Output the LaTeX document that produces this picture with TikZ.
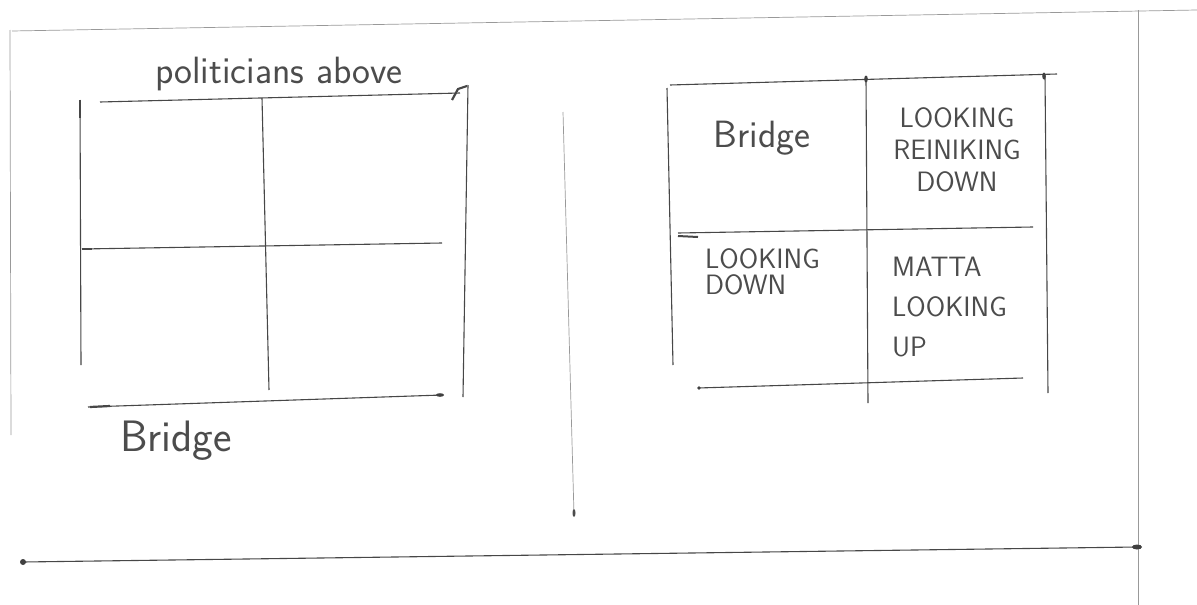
\documentclass[tikz,border=0pt]{standalone}
\usepackage{fontspec}
\begin{document}
\begin{tikzpicture}[x=1pt,y=-1pt,
  pen/.style={line width=1.1pt,draw=black!72},
  faint/.style={line width=0.7pt,draw=black!40},
  hand/.style={inner sep=0pt,text=black!70,font=\sffamily\fontsize{#1}{#1}\selectfont\addfontfeatures{LetterSpace=9}},
  caps/.style={inner sep=0pt,text=black!70,font=\sffamily\fontsize{28}{#1}\selectfont\addfontfeatures{LetterSpace=3}}]
  \useasboundingbox (0,0) rectangle (1197,605);

  % Page frame
  \draw[faint] (12,31) -- (1197,10);
  \draw[faint] (10,30) -- (11,435);
  \draw[faint] (1138,10) -- (1138,605);
  \draw[faint] (563,112) -- (574,515);
  \fill[black!70] (574,513) ellipse (1.5 and 4);
  \draw[pen] (23,562) -- (1137,547);
  \fill[black!75] (23,562) circle (3);
  \fill[black!75] (1137,547) ellipse (5 and 2.5);

  % Left grid
  \draw[pen] (100,102) -- (460,93);
  \draw[pen,line width=2.2pt] (452,100) -- (458,89) -- (467,86);
  \draw[pen] (80,100) -- (81,365);
  \draw[pen,line width=2pt] (80,100) -- (80,118);
  \draw[pen] (468,85) -- (463,397);
  \draw[pen] (262,98) -- (269,390);
  \draw[pen] (82,249) -- (442,243);
  \draw[pen,line width=2pt] (82,249) -- (92,249);
  \draw[pen] (88,407) -- (442,395);
  \draw[pen,line width=2.2pt] (90,407) -- (110,406);
  \fill[black!75] (440,395) ellipse (4 and 1.8);
  \node[hand=38] (above) at (279,74) {politicians above};
  \node[hand=44] (bridgeL) at (176,441) {Bridge};

  % Right grid
  \draw[pen] (670,85) -- (1057,74);
  \draw[pen] (667,88) -- (673,365);
  \draw[pen] (1045,76) -- (1048,393);
  \draw[pen] (866,79) -- (868,403);
  \draw[pen] (678,233) -- (1033,227);
  \draw[pen,line width=2pt] (678,236) -- (698,237);
  \draw[pen] (698,388) -- (1023,378);
  \fill[black!75] (866,79) ellipse (1.8 and 3.5);
  \fill[black!75] (1044,76) ellipse (1.8 and 3.5);
  \fill[black!75] (699,388) circle (1.8);
  \node[hand=38] (bridgeR) at (762,138) {Bridge};
  \node[caps=32,align=center] (reinking) at (957,150) {LOOKING\\REINIKING\\DOWN};
  \node[caps=26,align=left,anchor=west] (lookdown) at (705,272) {LOOKING\\DOWN};
  \node[caps=40,align=left,anchor=west] (matta) at (892,307) {MATTA\\LOOKING\\UP};
\end{tikzpicture}
\end{document}
